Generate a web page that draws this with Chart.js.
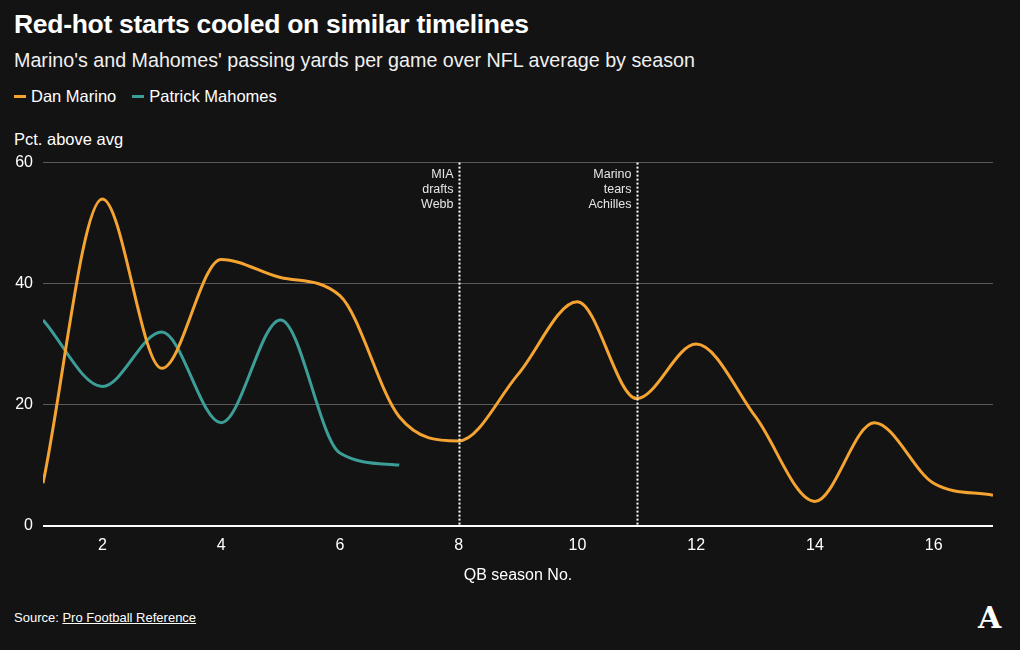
<!DOCTYPE html>
<html>
<head>
<meta charset="utf-8">
<script src="https://cdn.jsdelivr.net/npm/chart.js@4.4.1/dist/chart.umd.min.js"></script>
<style>
  html, body { margin: 0; padding: 0; background: #131313; }
  body { width: 1020px; height: 650px; position: relative; overflow: hidden; font-family: "Liberation Sans", Arial, sans-serif; color: #fff; }
  #title { position: absolute; left: 14px; top: 9px; font-size: 26.5px; font-weight: bold; letter-spacing: -0.3px; }
  #subtitle { position: absolute; left: 14px; top: 49px; font-size: 19.7px; color: #f0f0f0; }
  #legend { position: absolute; left: 14px; top: 87px; font-size: 16.5px; display: flex; gap: 16px; }
  #legend span.item { display: flex; align-items: center; }
  #legend span.sw { display: inline-block; width: 12px; height: 3px; margin-right: 5px; }
  #ylab { position: absolute; left: 14px; top: 130px; font-size: 16.5px; }
  #source { position: absolute; left: 14px; top: 610px; font-size: 13px; }
  #source u { text-decoration: underline; }
  #logo { position: absolute; left: 978px; top: 600px; font-family: "DejaVu Serif", serif; font-weight: bold; font-size: 30px; color: #fff; }
  #wrap { position: absolute; left: 0; top: 143px; width: 1020px; height: 442px; }
</style>
</head>
<body>
<div id="title">Red-hot starts cooled on similar timelines</div>
<div id="subtitle">Marino's and Mahomes' passing yards per game over NFL average by season</div>
<div id="legend">
  <span class="item"><span class="sw" style="background:#f5a431"></span>Dan Marino</span>
  <span class="item"><span class="sw" style="background:#3d9e98"></span>Patrick Mahomes</span>
</div>
<div id="ylab">Pct. above avg</div>
<div id="source">Source: <u>Pro Football Reference</u></div>
<div id="logo">A</div>
<div id="wrap"><canvas id="c"></canvas></div>
<script>
const seasons = [1,2,3,4,5,6,7,8,9,10,11,12,13,14,15,16,17];
const marino = [7,54,26,44,41,38,18,14,25,37,21,30,18,4,17,7,5];
const mahomesSeasons = [1,2,3,4,5,6,7];
const mahomes = [34,23,32,17,34,12,10];
const yTicks = [0,20,40,60];
const xTicks = [2,4,6,8,10,12,14,16];
const eventSeasons = [8, 11];
const eventLabels = [["MIA","drafts","Webb"],["Marino","tears","Achilles"]];

const ORANGE = '#f5a431';
const TEAL = '#3d9e98';
const FONT = '"Liberation Sans", Arial, sans-serif';

const annotPlugin = {
  id: 'annot',
  afterDatasetsDraw(chart) {
    const {ctx, chartArea, scales} = chart;
    ctx.save();
    eventSeasons.forEach((s, i) => {
      const x = Math.round(scales.x.getPixelForValue(s)) + 0.5;
      ctx.strokeStyle = '#ffffff';
      ctx.lineWidth = 2;
      ctx.setLineDash([2, 2]);
      ctx.beginPath();
      ctx.moveTo(x, chartArea.top);
      ctx.lineTo(x, chartArea.bottom);
      ctx.stroke();
      ctx.setLineDash([]);
      ctx.fillStyle = '#e6e6e6';
      ctx.font = '12.5px ' + FONT;
      ctx.textAlign = 'right';
      ctx.textBaseline = 'middle';
      eventLabels[i].forEach((t, j) => {
        ctx.fillText(t, x - 6, chartArea.top + 12 + j * 15);
      });
    });
    ctx.restore();
  }
};

new Chart(document.getElementById('c'), {
  type: 'line',
  data: {
    datasets: [
      { label: 'Dan Marino', data: seasons.map((s, i) => ({x: s, y: marino[i]})), borderColor: ORANGE, borderWidth: 3, pointRadius: 0, cubicInterpolationMode: 'monotone', fill: false },
      { label: 'Patrick Mahomes', data: mahomesSeasons.map((s, i) => ({x: s, y: mahomes[i]})), borderColor: TEAL, borderWidth: 3, pointRadius: 0, cubicInterpolationMode: 'monotone', fill: false }
    ]
  },
  options: {
    responsive: true,
    maintainAspectRatio: false,
    animation: false,
    layout: { padding: { left: 0, right: 27, top: 6, bottom: 0 } },
    plugins: { legend: { display: false }, tooltip: { enabled: false } },
    scales: {
      x: {
        type: 'linear', min: 1, max: 17,
        afterBuildTicks(scale) { scale.ticks = xTicks.map(v => ({value: v})); },
        grid: { display: false, drawTicks: false },
        border: { display: false },
        ticks: { color: '#ffffff', font: { size: 16, family: FONT }, padding: 10 },
        title: { display: true, text: 'QB season No.', color: '#ffffff', font: { size: 16, family: FONT }, padding: { top: 1, bottom: 0 } }
      },
      y: {
        min: 0, max: 60,
        afterBuildTicks(scale) { scale.ticks = yTicks.map(v => ({value: v})); },
        afterFit(scale) { scale.width = 43; },
        grid: {
          color: (c) => c.tick && c.tick.value === 0 ? '#ffffff' : '#5a5a5a',
          lineWidth: (c) => c.tick && c.tick.value === 0 ? 2 : 1,
          drawTicks: false
        },
        border: { display: false },
        ticks: { color: '#ffffff', font: { size: 16, family: FONT }, padding: 10 }
      }
    }
  },
  plugins: [annotPlugin]
});
</script>
</body>
</html>
